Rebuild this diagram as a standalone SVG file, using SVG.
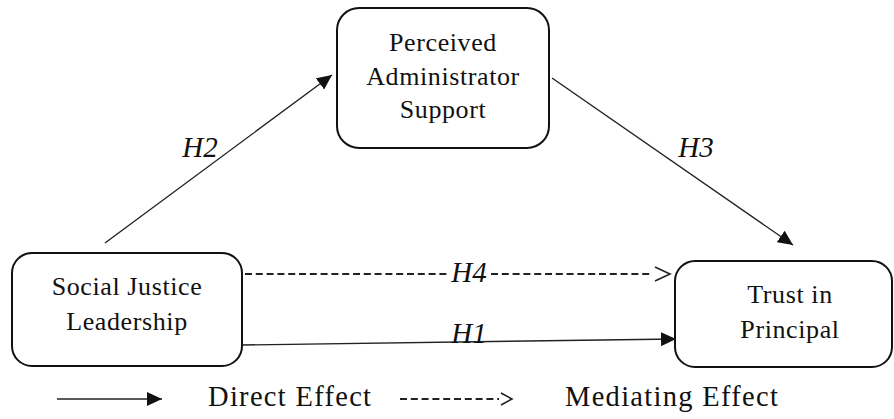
<svg xmlns="http://www.w3.org/2000/svg" width="894" height="419" viewBox="0 0 894 419">
<style>
.box{fill:#fff;stroke:#111;stroke-width:2}
.t{font-family:"Liberation Serif","Times New Roman",serif;font-size:26px;fill:#111;text-anchor:middle;letter-spacing:0.6px}
.lab{font-family:"Liberation Serif","Times New Roman",serif;font-size:29px;font-style:italic;fill:#111;text-anchor:middle}
.leg{font-family:"Liberation Serif","Times New Roman",serif;font-size:28.5px;fill:#111;letter-spacing:1.3px}
.ln{fill:none;stroke:#222;stroke-width:1.4}
.dash{fill:none;stroke:#222;stroke-width:1.8;stroke-dasharray:7 3.8}
.chev{fill:none;stroke:#222;stroke-width:1.6}
</style>
<defs>
<marker id="ah" viewBox="0 0 15 14" refX="15" refY="7" markerWidth="15" markerHeight="14" markerUnits="userSpaceOnUse" orient="auto">
<path d="M0,0 L15,7 L0,14 Z" fill="#111"/>
</marker>
</defs>
<rect width="894" height="419" fill="#fff"/>
<g id="connectors">
<line class="ln" x1="105" y1="243" x2="332" y2="75" marker-end="url(#ah)"/>
<line class="ln" x1="552" y1="78" x2="793" y2="245" marker-end="url(#ah)"/>
<line class="ln" x1="242" y1="345" x2="676" y2="339" marker-end="url(#ah)"/>
<path class="dash" d="M245 274 H447 M491 274 H652"/>
<polyline class="chev" points="655,267 670,274 655,281"/>
<text class="lab" x="200" y="157">H2</text>
<text class="lab" x="696" y="157">H3</text>
<text class="lab" x="469" y="282">H4</text>
<text class="lab" x="469" y="343">H1</text>
</g>
<g id="node-pas">
<rect class="box" x="337" y="8" width="212" height="140" rx="22"/>
<text class="t" x="443" y="51">Perceived</text>
<text class="t" x="443" y="85">Administrator</text>
<text class="t" x="443" y="118">Support</text>
</g>
<g id="node-sjl">
<rect class="box" x="12" y="253" width="230" height="113" rx="20"/>
<text class="t" x="127" y="295">Social Justice</text>
<text class="t" x="127" y="330">Leadership</text>
</g>
<g id="node-tip">
<rect class="box" x="675" y="261" width="217" height="106" rx="20"/>
<text class="t" x="790" y="303">Trust in</text>
<text class="t" x="790" y="338">Principal</text>
</g>
<g id="legend">
<line class="ln" x1="57" y1="399" x2="162" y2="399" marker-end="url(#ah)"/>
<text class="leg" x="208" y="406">Direct Effect</text>
<path class="dash" d="M400 399 H499"/>
<polyline class="chev" points="501,393 512,399 501,405"/>
<text class="leg" x="565" y="406">Mediating Effect</text>
</g>
</svg>
